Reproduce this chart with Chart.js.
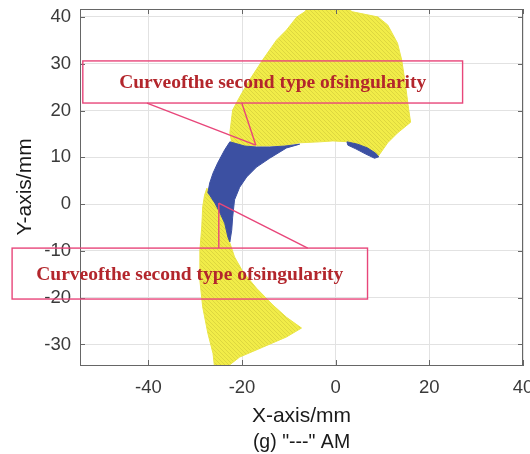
<!DOCTYPE html>
<html>
<head>
<meta charset="utf-8">
<script src="https://cdn.jsdelivr.net/npm/chart.js@4.4.1/dist/chart.umd.min.js"></script>
<style>
html,body{margin:0;padding:0;overflow:hidden;background:#fff;}
#wrap{position:absolute;left:0;top:0;width:545px;height:454px;}
</style>
</head>
<body>
<div id="wrap"><canvas id="myChart" width="545" height="454"></canvas></div>
<script>
// tick values
var xTicks=[-40,-20,0,20,40];
var yTicks=[-30,-20,-10,0,10,20,30,40];

// outlines, [x mm, y mm]
var upperYellow=[[-6.6,41.1],[-5.5,42.5],[1.0,42.5],[3.6,41.1],[9.0,40.0],[11.1,38.3],[13.2,34.4],[14.1,30.8],[14.9,25.5],[15.6,20.1],[16.0,17.5],[13.2,15.2],[11.1,13.1],[9.0,10.1],[6.2,12.0],[3.0,13.3],[-0.6,13.5],[-3.4,13.3],[-7.7,13.1],[-10.5,12.6],[-14.1,12.4],[-16.9,12.4],[-19.4,12.4],[-22.2,13.1],[-22.6,15.2],[-22.0,20.1],[-20.5,22.9],[-18.4,26.5],[-15.6,30.8],[-12.6,35.1],[-10.5,37.2],[-8.3,40.0],[-6.6,41.1]];
var lowerYellow=[[-27.5,3.4],[-25.8,0.2],[-24.8,-1.7],[-23.7,-4.1],[-23.0,-7.1],[-22.6,-8.3],[-21.6,-11.3],[-19.8,-14.5],[-16.9,-18.0],[-13.4,-21.6],[-10.5,-24.2],[-7.3,-26.5],[-10.5,-28.4],[-15.6,-30.6],[-20.5,-32.7],[-24.1,-35.5],[-25.8,-35.5],[-26.2,-31.9],[-27.3,-27.6],[-28.4,-22.0],[-29.0,-16.3],[-29.0,-9.8],[-28.6,-4.9],[-28.4,-0.6],[-28.0,1.9],[-27.5,3.4]];
var blueArc=[[-22.6,13.3],[-19.4,12.4],[-16.9,12.2],[-14.1,12.2],[-10.9,12.4],[-7.7,12.8],[-10.5,12.0],[-14.1,9.8],[-16.9,7.9],[-19.0,5.8],[-20.5,3.6],[-21.6,0.9],[-22.0,-2.8],[-22.2,-5.6],[-22.6,-8.1],[-23.0,-7.1],[-23.7,-4.1],[-24.8,-1.7],[-25.8,0.2],[-26.9,1.9],[-27.3,2.4],[-26.9,4.5],[-26.2,6.6],[-25.2,8.8],[-23.7,11.6],[-22.6,13.3]];
var blueStrip=[[2.4,13.3],[4.7,12.8],[6.8,12.0],[8.5,10.9],[9.2,10.1],[8.3,9.8],[6.4,10.7],[4.3,11.8],[2.6,12.6],[2.4,13.3]];

var noteText="Curveofthe second type ofsingularity";

function pts(a){return a.map(function(p){return {x:p[0],y:p[1]};});}

// yellow with a fine dotted hatch
function yellowPattern(){
  var c=document.createElement('canvas');c.width=4;c.height=4;
  var g=c.getContext('2d');
  g.fillStyle='#F1EC48';g.fillRect(0,0,4,4);
  g.fillStyle='#DDD73F';
  for(var i=0;i<4;i++){g.fillRect(i,i,1,1);}
  return g.createPattern(c,'repeat');
}
var yel=yellowPattern();
var blu='#3C50A2';

function shape(d,col,ord){
  return {data:pts(d),backgroundColor:col,borderColor:(col===blu?blu:'#EAE546'),borderWidth:1,
    pointRadius:0,fill:'shape',tension:0,order:ord};
}

var notes=[
  {box:[-54,21.6,27.1,30.6],from:[[-40.3,21.6],[-20.05,21.6]],to:[-17.07,12.62]},
  {box:[-69.1,-20.3,6.8,-9.41],from:[[-24.96,-9.41],[-5.97,-9.41]],to:[-24.96,0.21]}
];

var extras={
  id:'extras',
  afterDraw:function(chart){
    var ctx=chart.ctx,a=chart.chartArea,xs=chart.scales.x,ys=chart.scales.y;
    ctx.save();
    ctx.strokeStyle='#666';ctx.lineWidth=1;
    ctx.beginPath();
    ctx.moveTo(a.left,a.top+0.5);ctx.lineTo(a.right,a.top+0.5);
    ctx.moveTo(a.right-0.5,a.top);ctx.lineTo(a.right-0.5,a.bottom);
    xTicks.forEach(function(v){
      var p=Math.round(xs.getPixelForValue(v))+0.5;
      ctx.moveTo(p,a.bottom);ctx.lineTo(p,a.bottom-5);
      ctx.moveTo(p,a.top);ctx.lineTo(p,a.top+5);
    });
    yTicks.forEach(function(v){
      var p=Math.round(ys.getPixelForValue(v))+0.5;
      ctx.moveTo(a.left,p);ctx.lineTo(a.left+5,p);
      ctx.moveTo(a.right,p);ctx.lineTo(a.right-5,p);
    });
    ctx.stroke();

    // callouts
    ctx.strokeStyle='#E8467A';ctx.lineWidth=1.4;
    notes.forEach(function(n){
      var x1=xs.getPixelForValue(n.box[0]),y1=ys.getPixelForValue(n.box[1]);
      var x2=xs.getPixelForValue(n.box[2]),y2=ys.getPixelForValue(n.box[3]);
      ctx.strokeRect(x1,y2,x2-x1,y1-y2);
      var tx=xs.getPixelForValue(n.to[0]),ty=ys.getPixelForValue(n.to[1]);
      ctx.beginPath();
      n.from.forEach(function(f){
        ctx.moveTo(xs.getPixelForValue(f[0]),ys.getPixelForValue(f[1]));
        ctx.lineTo(tx,ty);
      });
      ctx.stroke();
      ctx.font='bold 19.5px "Liberation Serif"';
      ctx.fillStyle='#B3262C';ctx.textAlign='center';ctx.textBaseline='middle';
      ctx.fillText(noteText,(x1+x2)/2,(y1+y2)/2+1);
    });

    ctx.font='19.5px "Liberation Sans"';ctx.fillStyle='#1a1a1a';
    ctx.textAlign='center';ctx.textBaseline='alphabetic';
    ctx.fillText('(g) "---" AM',(a.left+a.right)/2,chart.height-6);
    ctx.restore();
  }
};

var ctx=document.getElementById('myChart').getContext('2d');
var chart=new Chart(ctx,{
  type:'line',
  data:{datasets:[
    shape(blueArc,blu,0),
    shape(blueStrip,blu,0),
    shape(upperYellow,yel,1),
    shape(lowerYellow,yel,1)
  ]},
  options:{
    responsive:false,animation:false,
    layout:{padding:{top:9,right:22,bottom:0,left:0}},
    plugins:{legend:{display:false},tooltip:{enabled:false}},
    scales:{
      x:{type:'linear',min:-54.6,max:40,
        afterBuildTicks:function(s){s.ticks=xTicks.map(function(v){return {value:v};});},
        afterFit:function(s){s.height=89;s.paddingLeft=0;s.paddingRight=0;},
        grid:{color:'#e2e2e2',drawTicks:false},
        border:{color:'#666'},
        ticks:{padding:12,color:'#3a3a3a',font:{family:'"Liberation Sans"',size:18.5},maxRotation:0},
        title:{display:true,text:'X-axis/mm',color:'#1a1a1a',font:{family:'"Liberation Sans"',size:21},padding:{top:0,bottom:25}}
      },
      y:{type:'linear',min:-34.4,max:41.7,
        afterBuildTicks:function(s){s.ticks=yTicks.map(function(v){return {value:v};});},
        afterFit:function(s){s.width=80;s.paddingTop=0;s.paddingBottom=0;},
        grid:{color:'#e2e2e2',drawTicks:false},
        border:{color:'#666'},
        ticks:{padding:9,color:'#3a3a3a',font:{family:'"Liberation Sans"',size:18.5}},
        title:{display:true,text:'Y-axis/mm',color:'#1a1a1a',font:{family:'"Liberation Sans"',size:21},padding:{top:13,bottom:0}}
      }
    }
  },
  plugins:[extras]
});
</script>
</body>
</html>
